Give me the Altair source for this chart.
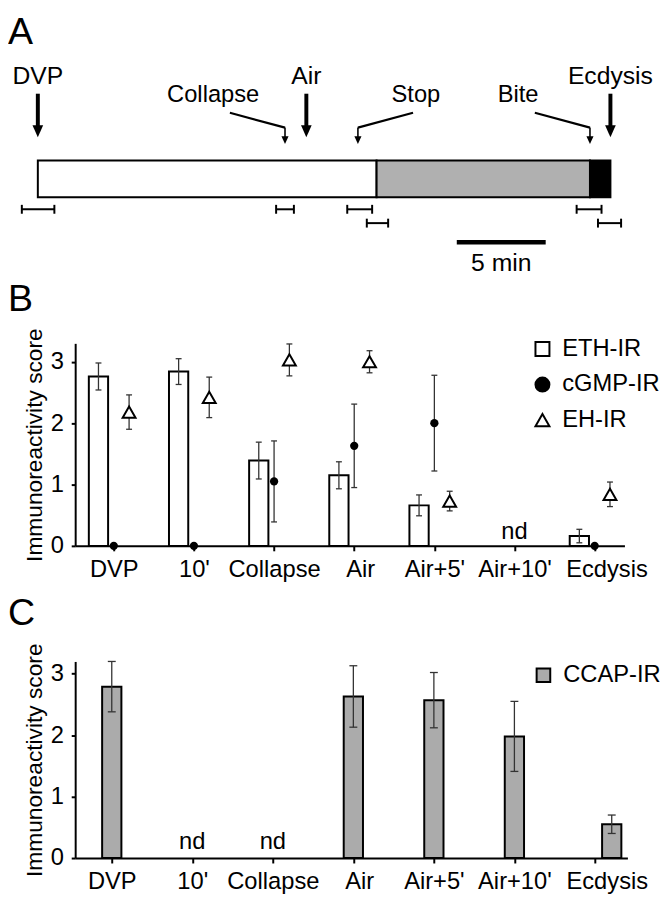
import json
import altair as alt
import pandas as pd

FONT = "Liberation Sans"

# ---------------- Panel A: timeline (minutes after DVP) ----------------
major_events = ["DVP", "Air", "Ecdysis"]
major_times = [0.0, 15.1, 32.2]
minor_events = ["Collapse", "Stop", "Bite"]
minor_times = [13.9, 18.0, 31.05]
minor_sides = [-1, 1, -1]
phase_names = ["pre-ecdysis I", "pre-ecdysis II", "ecdysis"]
phase_starts = [0.0, 19.05, 31.05]
phase_ends = [19.05, 31.05, 32.2]
window_starts = [-0.9, 13.4, 17.4, 30.3, 18.5, 31.5]
window_ends = [0.93, 14.4, 18.8, 31.7, 19.7, 32.8]
window_rows = [1, 1, 1, 1, 2, 2]
scalebar_start = [23.56]
scalebar_minutes = [5]

# ---------------- Panel B ----------------
categories = ["DVP", "10'", "Collapse", "Air", "Air+5'", "Air+10'", "Ecdysis"]
eth_mean = [2.76, 2.84, 1.39, 1.15, 0.66, None, 0.16]
eth_sem = [0.22, 0.21, 0.30, 0.22, 0.17, None, 0.11]
cgmp_mean = [0.0, 0.0, 1.05, 1.63, 2.00, None, 0.0]
cgmp_sem = [0.0, 0.0, 0.66, 0.68, 0.78, None, 0.0]
eh_mean = [2.18, 2.42, 3.03, 3.00, 0.73, None, 0.84]
eh_sem = [0.28, 0.33, 0.26, 0.18, 0.16, None, 0.20]
b_series = ["ETH-IR", "cGMP-IR", "EH-IR"]
b_nd = ["Air+10'"]

# ---------------- Panel C ----------------
ccap_mean = [2.79, None, None, 2.63, 2.57, 1.98, 0.55]
ccap_sem = [0.41, None, None, 0.50, 0.45, 0.57, 0.15]
c_series = ["CCAP-IR"]
c_nd = ["10'", "Collapse"]

# ---------------- styling / layout ----------------
PX_PER_MIN = 18.0
W_A, H_A = 556, 37
W_B, H_B = 556, 205
W_C, H_C = 559, 199
LETTER_X = -68
ERR = "#333333"
GRAY = "#ababab"
ARROW = "M-0.9,-1L0.9,-1L0,1Z"
LAST = len(categories) - 1


def series_df(name, means, sems):
    rows = []
    for i, (m, s) in enumerate(zip(means, sems)):
        if m is None:
            continue
        rows.append({"idx": i, "category": categories[i], "series": name,
                     "mean": m, "sem": s, "lo": m - s, "hi": m + s})
    return pd.DataFrame(rows)


def nd_df(names):
    return pd.DataFrame({"idx": [categories.index(n) for n in names],
                         "label": ["nd"] * len(names)})


def letter(ch, y):
    return alt.Chart(pd.DataFrame({"t": [ch]})).mark_text(
        align="left", baseline="alphabetic", fontSize=38, color="black"
    ).encode(x=alt.value(LETTER_X), y=alt.value(y), text="t:N")


def spacer(y):
    # blank (white) rule that fixes the vertical extent of a panel
    return alt.Chart(pd.DataFrame({"s": [0]})).mark_rule(color="white", strokeWidth=1).encode(
        x=alt.value(0), x2=alt.value(10), y=alt.value(y))


# ================= Panel A =================
xA = alt.Scale(domain=[2.1, 2.1 + W_A / PX_PER_MIN], nice=False, zero=False)


def XA(f):
    return alt.X(f, type="quantitative", scale=xA, axis=None)


phase_df = pd.DataFrame({"phase": phase_names, "start": phase_starts, "end": phase_ends})
phases = alt.Chart(phase_df).mark_rect(stroke="black", strokeWidth=2).encode(
    x=XA("start"), x2="end",
    y=alt.value(0), y2=alt.value(H_A),
    fill=alt.Fill("phase:N", scale=alt.Scale(domain=phase_names,
                                             range=["white", "#b0b0b0", "black"]),
                  legend=None),
)

major_df = pd.DataFrame({"event": major_events, "time": major_times})
major_lbl = alt.Chart(major_df).mark_text(fontSize=25, align="center", baseline="alphabetic",
                                          color="black").encode(
    x=XA("time"), y=alt.value(-77.5), text="event:N")
major_shaft = alt.Chart(major_df).mark_rule(strokeWidth=4, color="black").encode(
    x=XA("time"), y=alt.value(-67.7), y2=alt.value(-34))
major_head = alt.Chart(major_df).mark_point(shape=ARROW, filled=True, color="black", size=144,
                                            opacity=1, strokeWidth=0).encode(
    x=XA("time"), y=alt.value(-29.7))

minor_df = pd.DataFrame({"event": minor_events, "time": minor_times, "side": minor_sides})
minor_base = alt.Chart(minor_df).transform_calculate(
    label_x="datum.time + (datum.side < 0 ? -4.04 : 3.26)",
    lead_x="datum.time + datum.side * 3.1",
)
minor_lbl = minor_base.mark_text(fontSize=24, align="center", baseline="alphabetic",
                                 color="black").encode(
    x=XA("label_x"), y=alt.value(-59.5), text="event:N")
minor_lead = minor_base.mark_rule(strokeWidth=2.2, color="black").encode(
    x=XA("lead_x"), x2="time:Q", y=alt.value(-48.4), y2=alt.value(-33.4))
minor_stem = minor_base.mark_rule(strokeWidth=1.6, color="black").encode(
    x=XA("time"), y=alt.value(-33.4), y2=alt.value(-22))
minor_head = minor_base.mark_point(shape=ARROW, filled=True, color="black", size=64,
                                   opacity=1, strokeWidth=0).encode(
    x=XA("time"), y=alt.value(-20.7))

win_df = pd.DataFrame({"start": window_starts, "end": window_ends, "row": window_rows})
yRow = alt.Scale(domain=[1, 2], range=[49.3, 63.3], nice=False, zero=False)
win_rule = alt.Chart(win_df).mark_rule(strokeWidth=2, color="black").encode(
    x=XA("start"), x2="end:Q", y=alt.Y("row:Q", scale=yRow, axis=None))
win_caps = alt.Chart(win_df).transform_fold(["start", "end"], as_=["edge", "t"]).mark_tick(
    orient="vertical", size=9, thickness=2, color="black", opacity=1).encode(
    x=XA("t"), y=alt.Y("row:Q", scale=yRow, axis=None))

sb_df = pd.DataFrame({"start": scalebar_start, "minutes": scalebar_minutes})
sb_base = alt.Chart(sb_df).transform_calculate(
    end="datum.start + datum.minutes",
    mid="datum.start + datum.minutes / 2",
    label="datum.minutes + ' min'",
)
sb_rule = sb_base.mark_rule(strokeWidth=4.5, color="black").encode(
    x=XA("start"), x2="end:Q", y=alt.value(82.6))
sb_text = sb_base.mark_text(fontSize=25, align="center", baseline="alphabetic",
                            color="black").encode(
    x=XA("mid"), y=alt.value(111.6), text="label:N")

panelA = alt.layer(
    spacer(-154.5), spacer(114.5),
    phases, major_shaft, major_head, major_lbl,
    minor_lead, minor_stem, minor_head, minor_lbl,
    win_rule, win_caps, sb_rule, sb_text, letter("A", -118.4),
).properties(width=W_A, height=H_A)

# ================= Panels B / C shared axes =================
label_expr = json.dumps(categories) + "[datum.value]"
x_axis = alt.Axis(values=list(range(len(categories))), labelExpr=label_expr, title=None,
                  tickSize=5, labelPadding=7, labelFlush=False, labelOverlap=False, grid=False,
                  labelOffset={"condition": [
                      {"test": f"datum.value == {LAST}", "value": 12},
                      {"test": "datum.value == 3", "value": 6}], "value": 0})
y_axis = alt.Axis(values=[0, 1, 2, 3], title="Immunoreactivity score", tickSize=4,
                  labelPadding=8, titlePadding=4, grid=False)


def make_xy(xs, ys):
    def X(f):
        return alt.X(f, type="quantitative", scale=xs, axis=x_axis)

    def Y(f):
        return alt.Y(f, type="quantitative", scale=ys, axis=y_axis)
    return X, Y


def err_layers(df, X, Y, offset, cap):
    base = alt.Chart(df).transform_filter("datum.sem > 0")
    rule = base.mark_rule(color=ERR, strokeWidth=1.3, xOffset=offset).encode(
        x=X("idx"), y=Y("lo"), y2="hi:Q")
    caps = base.transform_fold(["lo", "hi"], as_=["end", "val"]).mark_tick(
        orient="horizontal", size=cap, thickness=1.3, color=ERR, opacity=1,
        xOffset=offset).encode(x=X("idx"), y=Y("val"))
    return [rule, caps]


# ================= Panel B =================
xB = alt.Scale(domain=[-0.42, 6.31], nice=False, zero=False)
yB = alt.Scale(domain=[0, 3.3], nice=False, zero=True)
XB, YB = make_xy(xB, yB)

eth = series_df("ETH-IR", eth_mean, eth_sem)
cgmp = series_df("cGMP-IR", cgmp_mean, cgmp_sem)
eh = series_df("EH-IR", eh_mean, eh_sem)

legendB = alt.Legend(title=None, orient="none", legendX=461, legendY=-6.3, padding=0,
                     symbolSize=200, symbolStrokeWidth=2,
                     labelFontSize=24, labelFont=FONT, labelColor="black",
                     labelOffset=8, rowPadding=12)
shapeB = alt.Shape("series:N", scale=alt.Scale(domain=b_series,
                                                range=["square", "circle", "triangle-up"]),
                   legend=legendB)
fillB = alt.Fill("series:N", scale=alt.Scale(domain=b_series,
                                              range=["white", "black", "white"]),
                 legend=legendB)
strokeB = alt.Stroke("series:N", scale=alt.Scale(domain=b_series,
                                                  range=["black", "black", "black"]),
                     legend=legendB)

eth_bars = alt.Chart(eth).mark_bar(orient="vertical", size=19.5, xOffset=-15.5, fill="white",
                                   stroke="black", strokeWidth=2).encode(
    x=XB("idx"), y=YB("mean"))
cgmp_pts = alt.Chart(cgmp).mark_point(filled=True, size=70, opacity=1,
                                      strokeWidth=0).encode(
    x=XB("idx"), y=YB("mean"), shape=shapeB, fill=fillB, stroke=strokeB)
eh_pts = alt.Chart(eh).mark_point(filled=True, size=170, opacity=1,
                                  strokeWidth=2, xOffset=15.5).encode(
    x=XB("idx"), y=YB("mean"), shape=shapeB, fill=fillB, stroke=strokeB)
nd_B = alt.Chart(nd_df(b_nd)).transform_calculate(zero="0").mark_text(
    fontSize=24, baseline="alphabetic", dy=-7, color="black").encode(
    x=XB("idx"), y=YB("zero"), text="label:N")

panelB = alt.layer(
    spacer(-67.1), spacer(244),
    eth_bars,
    *err_layers(eth, XB, YB, -15.5, 6),
    *err_layers(cgmp, XB, YB, 0, 6),
    *err_layers(eh, XB, YB, 15.5, 6),
    cgmp_pts, eh_pts, nd_B, letter("B", -33),
).properties(width=W_B, height=H_B)

# ================= Panel C =================
xC = alt.Scale(domain=[-0.393, 6.342], nice=False, zero=False)
yC = alt.Scale(domain=[0, 3.2], nice=False, zero=True)
XC, YC = make_xy(xC, yC)
# the last column of panel C is drawn slightly to the right, as in the original figure
c_shift = {"expr": f"datum.idx == {LAST} ? 17 : 0"}

ccap = series_df("CCAP-IR", ccap_mean, ccap_sem)
legendC = alt.Legend(title=None, orient="none", legendX=462, legendY=2, padding=0,
                     symbolType="square", symbolSize=190, symbolStrokeWidth=2,
                     labelFontSize=24, labelFont=FONT,
                     labelColor="black", labelOffset=8)
ccap_bars = alt.Chart(ccap).mark_bar(orient="vertical", size=19.5, xOffset=c_shift,
                                     strokeWidth=2, opacity=1).encode(
    x=XC("idx"), y=YC("mean"),
    fill=alt.Fill("series:N", scale=alt.Scale(domain=c_series, range=[GRAY]),
                  legend=legendC),
    stroke=alt.Stroke("series:N", scale=alt.Scale(domain=c_series, range=["black"]),
                      legend=legendC))
nd_C = alt.Chart(nd_df(c_nd)).transform_calculate(zero="0").mark_text(
    fontSize=24, baseline="alphabetic", dy=-9.5, color="black").encode(
    x=XC("idx"), y=YC("zero"), text="label:N")

panelC = alt.layer(
    spacer(-75.7),
    ccap_bars, *err_layers(ccap, XC, YC, c_shift, 8), nd_C, letter("C", -37),
).properties(width=W_C, height=H_C)

chart = alt.vconcat(panelA, panelB, panelC, spacing=0).resolve_scale(
    fill="independent", shape="independent", stroke="independent"
).resolve_legend(
    fill="independent", shape="independent", stroke="independent"
).properties(
    padding={"left": 0, "top": -6, "right": 0, "bottom": 0}
).configure(font=FONT).configure_view(stroke=None).configure_axis(
    domainColor="black", domainWidth=2, tickColor="black", tickWidth=2,
    labelColor="black", labelFont=FONT, labelFontSize=24,
    titleFont=FONT, titleFontSize=23, titleFontWeight="normal", titleColor="black",
)

chart.save("out.html", embed_options={"renderer": "svg", "actions": False})
